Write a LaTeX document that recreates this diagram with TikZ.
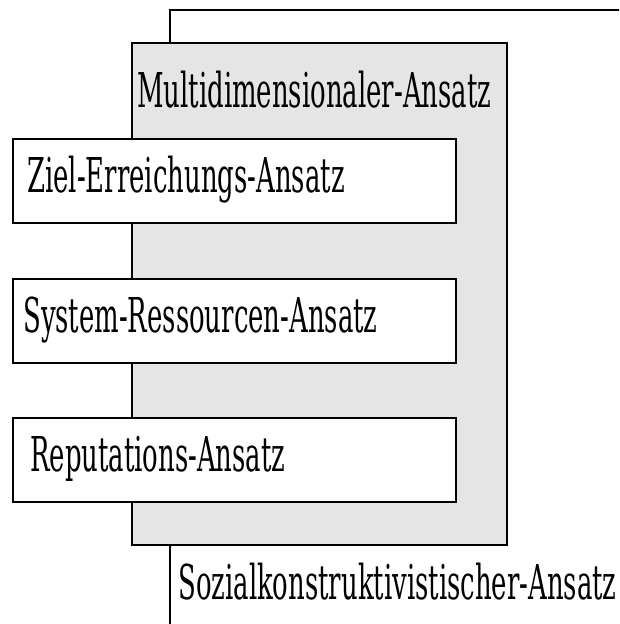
\documentclass[tikz,border=0pt]{standalone}
\usepackage{fontspec}
\setmainfont{DejaVu Serif Condensed}
\newfontfamily\narrowfont[FakeStretch=0.6]{DejaVu Serif Condensed}
\usetikzlibrary{positioning}
\tikzset{
	ansatz/.style={draw, line width=1.5pt, fill=white, minimum width=443*0.75pt, minimum height=84*0.75pt, anchor=north west},
	label/.style={font=\narrowfont\fontsize{36}{40}\selectfont, inner sep=0pt, anchor=west}
}

\begin{document}
\begin{tikzpicture}[x=0.75pt, y=-0.75pt]
	\useasboundingbox (0, 0) rectangle (619, 624);
	\clip (0, 0) rectangle (619, 624);
	% outer frame
	\draw [line width=1.5pt] (170, 640) -- (170, 10) -- (640, 10);
	% multidimensional box
	\node [draw, line width=1.5pt, fill=black!10, minimum width=375*0.75pt, minimum height=502*0.75pt, anchor=north west] (multi) at (131, 42) {};
	\node [label] (multitext) at (137, 90) {Multidimensionaler-Ansatz};

	\node [ansatz] (ziel) at (12, 138) {};
	\node [label] at (27, 180) {Ziel-Erreichungs-Ansatz};
	\node [ansatz] (system) at (12, 278) {};
	\node [label] at (23, 320) {System-Ressourcen-Ansatz};
	\node [ansatz] (repu) at (12, 417) {};
	\node [label] at (30, 459) {Reputations-Ansatz};

	\node [label] (sozial) at (178, 582) {Sozialkonstruktivistischer-Ansatz};
\end{tikzpicture}
\end{document}
